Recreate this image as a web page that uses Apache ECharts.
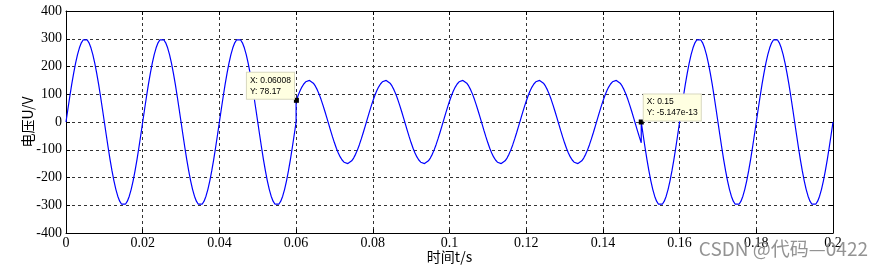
<!DOCTYPE html>
<html>
<head>
<meta charset="utf-8">
<script src="https://cdn.jsdelivr.net/npm/echarts@6/dist/echarts.min.js"></script>
<style>html,body{margin:0;padding:0;background:#fff}#c{width:882px;height:267px}</style>
</head>
<body>
<div id="c"></div>
<script>
// sampling step of the recorded waveform (s)
var sampleStep = 0.0005;
// segment 1: normal voltage, 0 ~ 0.06 s
var seg1Start = 0;
var seg1 = [
0,46.9,92.7,136.2,176.3,212.1,242.7,267.3,285.3,296.3,300,296.3,285.3,267.3,242.7,212.1,176.3,136.2,92.7,46.9,0,-46.9,-92.7,-136.2,-176.3,-212.1,-242.7,-267.3,-285.3,-296.3,-300,-296.3,-285.3,-267.3,-242.7,-212.1,-176.3,-136.2,-92.7,-46.9,
0,46.9,92.7,136.2,176.3,212.1,242.7,267.3,285.3,296.3,300,296.3,285.3,267.3,242.7,212.1,176.3,136.2,92.7,46.9,0,-46.9,-92.7,-136.2,-176.3,-212.1,-242.7,-267.3,-285.3,-296.3,-300,-296.3,-285.3,-267.3,-242.7,-212.1,-176.3,-136.2,-92.7,-46.9,
0,46.9,92.7,136.2,176.3,212.1,242.7,267.3,285.3,296.3,300,296.3,285.3,267.3,242.7,212.1,176.3,136.2,92.7,46.9,0,-46.9,-92.7,-136.2,-176.3,-212.1,-242.7,-267.3,-285.3,-296.3,-300,-296.3,-285.3,-267.3,-242.7,-212.1,-176.3,-136.2,-92.7,-46.9,
0];
// segment 2: voltage sag, 0.06 ~ 0.15 s
var seg2Start = 0.06;
var seg2 = [
75,94.4,111.5,125.8,137.0,144.9,149.2,149.8,146.7,140.0,129.9,116.6,100.4,81.7,61.0,38.8,15.7,-7.8,-31.2,-53.8,-75,-94.4,-111.5,-125.8,-137.0,-144.9,-149.2,-149.8,-146.7,-140.0,-129.9,-116.6,-100.4,-81.7,-61.0,-38.8,-15.7,7.8,31.2,53.8,
75,94.4,111.5,125.8,137.0,144.9,149.2,149.8,146.7,140.0,129.9,116.6,100.4,81.7,61.0,38.8,15.7,-7.8,-31.2,-53.8,-75,-94.4,-111.5,-125.8,-137.0,-144.9,-149.2,-149.8,-146.7,-140.0,-129.9,-116.6,-100.4,-81.7,-61.0,-38.8,-15.7,7.8,31.2,53.8,
75,94.4,111.5,125.8,137.0,144.9,149.2,149.8,146.7,140.0,129.9,116.6,100.4,81.7,61.0,38.8,15.7,-7.8,-31.2,-53.8,-75,-94.4,-111.5,-125.8,-137.0,-144.9,-149.2,-149.8,-146.7,-140.0,-129.9,-116.6,-100.4,-81.7,-61.0,-38.8,-15.7,7.8,31.2,53.8,
75,94.4,111.5,125.8,137.0,144.9,149.2,149.8,146.7,140.0,129.9,116.6,100.4,81.7,61.0,38.8,15.7,-7.8,-31.2,-53.8,-75,-94.4,-111.5,-125.8,-137.0,-144.9,-149.2,-149.8,-146.7,-140.0,-129.9,-116.6,-100.4,-81.7,-61.0,-38.8,-15.7,7.8,31.2,53.8,
75,94.4,111.5,125.8,137.0,144.9,149.2,149.8,146.7,140.0,129.9,116.6,100.4,81.7,61.0,38.8,15.7,-7.8,-31.2,-53.8,
-75];
// segment 3: recovered voltage, 0.15 ~ 0.2 s
var seg3Start = 0.15;
var seg3 = [
0,-46.9,-92.7,-136.2,-176.3,-212.1,-242.7,-267.3,-285.3,-296.3,-300,-296.3,-285.3,-267.3,-242.7,-212.1,-176.3,-136.2,-92.7,-46.9,
0,46.9,92.7,136.2,176.3,212.1,242.7,267.3,285.3,296.3,300,296.3,285.3,267.3,242.7,212.1,176.3,136.2,92.7,46.9,0,-46.9,-92.7,-136.2,-176.3,-212.1,-242.7,-267.3,-285.3,-296.3,-300,-296.3,-285.3,-267.3,-242.7,-212.1,-176.3,-136.2,-92.7,-46.9,
0,46.9,92.7,136.2,176.3,212.1,242.7,267.3,285.3,296.3,300,296.3,285.3,267.3,242.7,212.1,176.3,136.2,92.7,46.9,0,-46.9,-92.7,-136.2,-176.3,-212.1,-242.7,-267.3,-285.3,-296.3,-300,-296.3,-285.3,-267.3,-242.7,-212.1,-176.3,-136.2,-92.7,-46.9,
0];
// data tips
var tip1 = {x: 0.06008, y: 78.17, text: 'X: 0.06008\nY: 78.17'};
var tip2 = {x: 0.15, y: -5.147e-13, text: 'X: 0.15\nY: -5.147e-13'};
var xTitle = '时间t/s';
var yTitle = '电压U/V';
var watermark = 'CSDN @代码—0422';

function toPairs(start, arr) {
  return arr.map(function (v, i) { return [+(start + i * sampleStep).toFixed(5), v]; });
}
var data = toPairs(seg1Start, seg1).concat(toPairs(seg2Start, seg2), toPairs(seg3Start, seg3));

var serif = '"Liberation Serif", "Times New Roman", serif';
var cjk = '"Noto Sans CJK SC", sans-serif';
var gridDash = {color: '#333', width: 1, type: [3, 3]};
var chart = echarts.init(document.getElementById('c'), null, {renderer: 'canvas'});
var tipLabel = {
  show: true, color: '#000', fontFamily: '"Liberation Sans", Arial, sans-serif', fontSize: 8.5, lineHeight: 11,
  backgroundColor: '#ffffe1', borderColor: '#d8d8c0', borderWidth: 1, padding: [2, 3, 2, 3],
  align: 'left', verticalAlign: 'top'
};
chart.setOption({
  animation: false,
  grid: {left: 66, right: 49, top: 11, bottom: 34, containLabel: false, outerBoundsMode: 'none'},
  xAxis: [{
    type: 'value', min: 0, max: 0.2, interval: 0.02,
    name: xTitle, nameLocation: 'middle', nameGap: 17, nameMoveOverlap: false,
    nameTextStyle: {fontFamily: cjk, fontSize: 14, color: '#000'},
    axisLine: {show: true, onZero: false, lineStyle: {color: '#000', width: 1}},
    axisTick: {show: true, inside: true, length: 4, lineStyle: {color: '#000'}},
    axisLabel: {color: '#000', fontFamily: serif, fontSize: 14, margin: 3},
    splitLine: {show: true, lineStyle: gridDash}
  }, {
    type: 'value', min: 0, max: 0.2, interval: 0.02, position: 'top',
    axisLine: {show: true, onZero: false, lineStyle: {color: '#000', width: 1}},
    axisTick: {show: true, inside: true, length: 4, lineStyle: {color: '#000'}},
    axisLabel: {show: false}, splitLine: {show: false}
  }],
  yAxis: [{
    type: 'value', min: -400, max: 400, interval: 100,
    name: yTitle, nameLocation: 'middle', nameGap: 31, nameRotate: 90, nameMoveOverlap: false,
    nameTextStyle: {fontFamily: cjk, fontSize: 14, color: '#000'},
    axisLine: {show: true, onZero: false, lineStyle: {color: '#000', width: 1}},
    axisTick: {show: true, inside: true, length: 4, lineStyle: {color: '#000'}},
    axisLabel: {color: '#000', fontFamily: serif, fontSize: 14, margin: 4},
    splitLine: {show: true, lineStyle: gridDash}
  }, {
    type: 'value', min: -400, max: 400, interval: 100, position: 'right',
    axisLine: {show: true, onZero: false, lineStyle: {color: '#000', width: 1}},
    axisTick: {show: true, inside: true, length: 4, lineStyle: {color: '#000'}},
    axisLabel: {show: false}, splitLine: {show: false}
  }],
  series: [{
    type: 'line', data: data, showSymbol: false, symbol: 'none',
    lineStyle: {color: '#0000ff', width: 1.2}, z: 3,
    markPoint: {
      symbol: 'rect', symbolSize: 5, itemStyle: {color: '#000'}, z: 5,
      data: [
        {coord: [tip1.x, tip1.y], label: Object.assign({}, tipLabel, {formatter: tip1.text, position: [-47, -25]})},
        {coord: [tip2.x, tip2.y], label: Object.assign({}, tipLabel, {formatter: tip2.text, position: [5, -25]})}
      ]
    }
  }],
  graphic: [{
    type: 'text', right: 14, bottom: 9, z: 100,
    style: {text: watermark, fill: 'rgba(120,120,120,0.8)', font: '19px "Noto Sans CJK SC", sans-serif'}
  }]
});
</script>
</body>
</html>
